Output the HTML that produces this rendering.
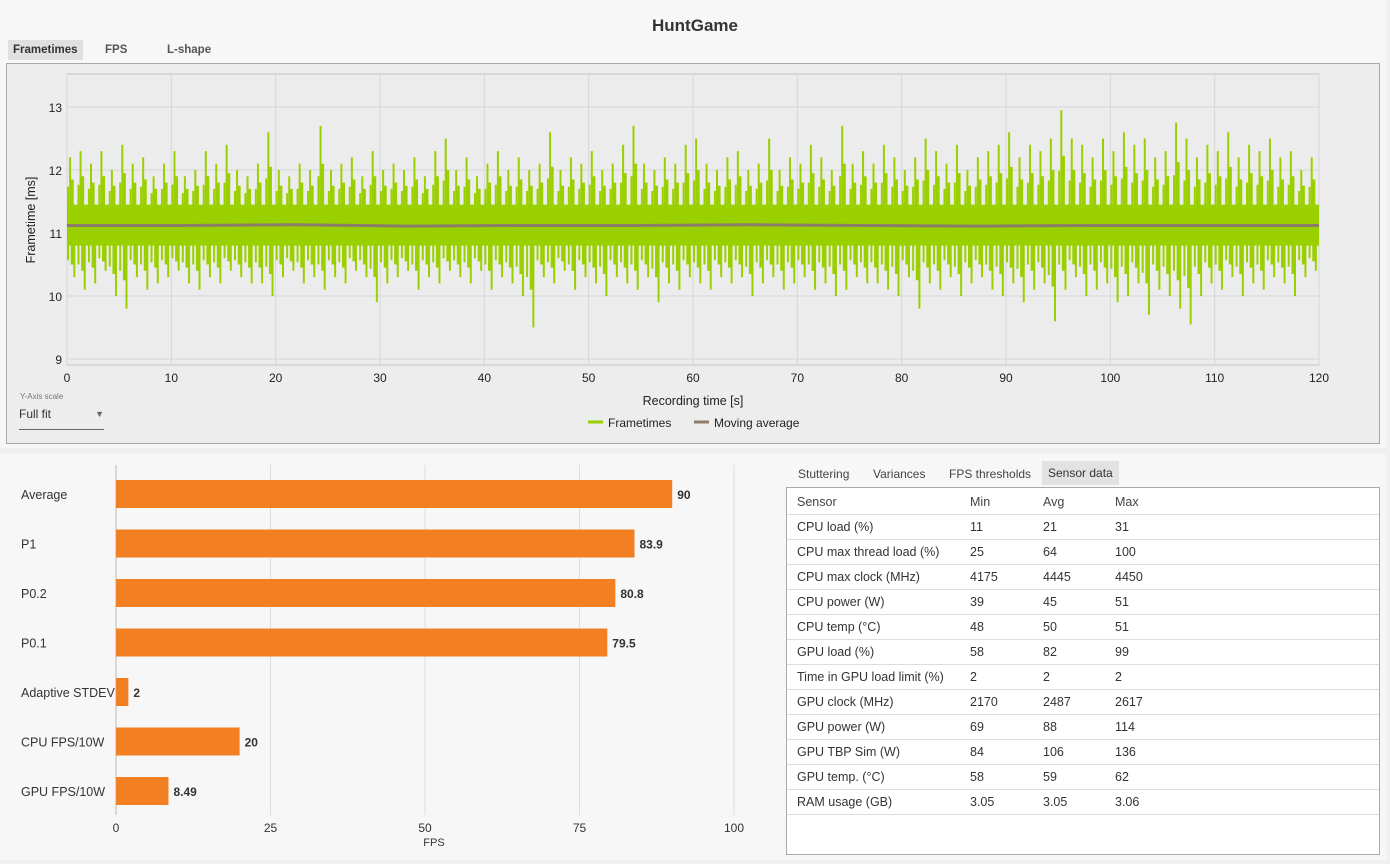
<!DOCTYPE html>
<html><head><meta charset="utf-8">
<style>
body{margin:0;width:1390px;height:864px;background:#f0f0f0;font-family:"Liberation Sans",sans-serif;overflow:hidden;position:relative}
.abs{position:absolute}
.tab{position:absolute;font-size:12px;font-weight:bold;color:#555;padding:4px 5px}
table{border-collapse:collapse;font-size:12.5px;color:#333}
td{height:24px;border-bottom:1px solid #ddd;padding:0 0 0 10px}
</style></head>
<body>
<div class="abs" style="left:0;top:0;width:1386px;height:448px;background:#f7f7f7"></div>
<div class="abs" style="left:0;top:16px;width:1390px;text-align:center;font-size:17px;font-weight:bold;color:#333">HuntGame</div>
<div class="tab" style="left:8px;top:40px;background:#e0e0e0;color:#333;font-size:11.5px">Frametimes</div>
<div class="tab" style="left:100px;top:40px;font-size:11.5px">FPS</div>
<div class="tab" style="left:162px;top:40px;font-size:11.5px">L-shape</div>
<div class="abs" style="left:6px;top:63px;width:1372px;height:379px;border:1px solid #aaa;background:#ededed"></div>
<svg class="abs" style="left:0;top:0" width="1390" height="450">
<g id="ft"></g></svg>
<div class="abs" style="left:20px;top:392px;font-size:8px;color:#777">Y-Axis scale</div>
<div class="abs" style="left:19px;top:407px;width:85px;height:22px;border-bottom:1px solid #666;font-size:12px;color:#333">Full fit<span style="position:absolute;right:0;top:2px;font-size:9px;color:#666">▼</span></div>
<div class="abs" style="left:0;top:454px;width:1386px;height:406px;background:#f7f7f7"></div>
<svg class="abs" style="left:0;top:454px" width="770" height="406"><g id="bc" transform="translate(0,-454)"></g></svg>
<div class="tab" style="left:793px;top:463px;font-weight:normal;color:#444">Stuttering</div>
<div class="tab" style="left:868px;top:463px;font-weight:normal;color:#444">Variances</div>
<div class="tab" style="left:944px;top:463px;font-weight:normal;color:#444">FPS thresholds</div>
<div class="tab" style="left:1042px;top:461px;background:#e2e2e2;font-weight:normal;color:#333;padding:5px 6px">Sensor data</div>
<div class="abs" style="left:786px;top:487px;width:592px;height:366px;border:1px solid #aaa;background:#fff">
<table id="st" style="width:592px;margin-top:2px"></table></div>
<script>
const NS="http://www.w3.org/2000/svg";
function mk(p,t,a){const e=document.createElementNS(NS,t);for(const k in a)e.setAttribute(k,a[k]);p.appendChild(e);return e;}
const ftMax=[12.2,12.3,12.1,12.3,12.0,12.4,12.1,12.2,11.9,12.1,12.3,11.9,12.0,12.3,12.1,12.4,12.0,11.9,12.1,12.6,12.0,11.9,12.1,12.0,12.7,12.0,12.1,12.2,11.9,12.3,12.0,12.1,12.0,12.2,11.9,12.3,12.5,12.0,12.2,11.9,12.1,12.3,12.0,12.2,12.0,12.1,12.6,12.0,12.2,12.1,12.3,12.0,12.1,12.4,12.7,12.1,12.0,12.2,12.1,12.4,12.5,12.1,12.0,12.2,12.3,12.0,12.1,12.5,12.0,12.2,12.1,12.4,12.2,12.0,12.7,12.1,12.3,12.1,12.4,12.2,12.0,12.2,12.5,12.3,12.1,12.4,12.0,12.2,12.3,12.4,12.6,12.2,12.4,12.3,12.5,12.95,12.5,12.4,12.2,12.5,12.3,12.6,12.4,12.5,12.2,12.3,12.75,12.5,12.2,12.4,12.3,12.6,12.2,12.4,12.3,12.5,12.2,12.3,12.0,12.2];
const ftMin=[10.3,10.1,10.2,10.4,10.0,9.8,10.3,10.1,10.2,10.3,10.4,10.2,10.1,10.3,10.2,10.4,10.3,10.2,10.2,10.0,10.3,10.4,10.2,10.3,10.1,10.3,10.2,10.4,10.3,9.9,10.2,10.3,10.4,10.1,10.3,10.2,10.4,10.3,10.2,10.4,10.1,10.3,10.2,10.0,9.5,10.3,10.2,10.4,10.1,10.3,10.2,10.0,10.3,10.2,10.1,10.3,9.9,10.2,10.1,10.3,10.2,10.1,10.3,10.2,10.3,10.0,10.2,10.3,10.1,10.2,10.3,10.1,10.2,10.0,10.1,10.3,10.2,10.2,10.1,10.0,10.3,9.8,10.2,10.1,10.3,10.0,10.2,10.3,10.1,10.0,10.2,9.9,10.1,10.2,9.6,10.1,10.3,10.0,10.1,10.2,9.9,10.0,10.2,9.7,10.1,10.0,9.8,9.55,10.0,10.2,10.1,10.3,10.0,10.2,10.1,10.3,10.2,10.0,10.3,10.4];
const movAvg=[11.12,11.12,11.13,11.11,11.12,11.12,11.13,11.12,11.11,11.12,11.12,11.12];
const bandLo=[10.8], bandHi=[11.45];
const xTicks=[0,10,20,30,40,50,60,70,80,90,100,110,120];
const yTicks=[9,10,11,12,13];
const X=t=>67+t*(1319-67)/120, Y=v=>107+(13-v)*63;
const g=document.getElementById('ft');
let e;
e=mk(g,'rect',{x:67,y:74,width:1252,height:291,fill:'#ececec',stroke:'#c4c4c4'});


xTicks.forEach(t=>{e=mk(g,'line',{x1:X(t),x2:X(t),y1:74,y2:365,stroke:'#d6d6d6'});


e=mk(g,'text',{x:X(t),y:382,'text-anchor':'middle','font-size':12,fill:'#222'});e.textContent=t;

});
yTicks.forEach(v=>{e=mk(g,'line',{x1:67,x2:1319,y1:Y(v),y2:Y(v),stroke:'#d6d6d6'});


e=mk(g,'text',{x:62,y:Y(v)+5,'text-anchor':'end','font-size':12,fill:'#222'});e.textContent=v;

});
e=mk(g,'rect',{x:X(0),y:Y(bandHi[0]),width:X(120)-X(0),height:Y(bandLo[0])-Y(bandHi[0]),fill:'#9bd000'});


const bw=(X(120)-X(0))/ftMax.length;
ftMax.forEach((m,i)=>{const n=ftMin[i];
e=mk(g,'line',{x1:X(i)+bw*0.3,x2:X(i)+bw*0.3,y1:Y(m),y2:Y(11.1),stroke:'#9bd000','stroke-width':2});


e=mk(g,'line',{x1:X(i)+bw*0.7,x2:X(i)+bw*0.7,y1:Y(11.1),y2:Y(n),stroke:'#9bd000','stroke-width':2});


e=mk(g,'line',{x1:X(i)+bw*0.5,x2:X(i)+bw*0.5,y1:Y((m+11.5)/2),y2:Y((n+10.7)/2),stroke:'#9bd000','stroke-width':3});


e=mk(g,'line',{x1:X(i)+bw*0.1,x2:X(i)+bw*0.1,y1:Y((m+23)/3),y2:Y((n+21.4)/3),stroke:'#9bd000','stroke-width':2});

});
const pts=movAvg.map((v,i)=>X(i*120/(movAvg.length-1))+','+Y(v)).join(' ');
e=mk(g,'polyline',{points:pts,fill:'none',stroke:'#8b7d68','stroke-width':3});


e=mk(g,'text',{x:693,y:405,'text-anchor':'middle','font-size':12.5,fill:'#222'});e.textContent='Recording time [s]';


e=mk(g,'text',{x:0,y:0,transform:'translate(35,220) rotate(-90)','text-anchor':'middle','font-size':12.5,fill:'#222'});e.textContent='Frametime [ms]';


e=mk(g,'line',{x1:588,x2:603,y1:422,y2:422,stroke:'#9bd000','stroke-width':3});


e=mk(g,'text',{x:608,y:427,'font-size':12,fill:'#222'});e.textContent='Frametimes';


e=mk(g,'line',{x1:694,x2:709,y1:422,y2:422,stroke:'#8b7d68','stroke-width':3});


e=mk(g,'text',{x:714,y:427,'font-size':12,fill:'#222'});e.textContent='Moving average';


const barCats=['Average','P1','P0.2','P0.1','Adaptive STDEV','CPU FPS/10W','GPU FPS/10W'];
const barVals=[90,83.9,80.8,79.5,2,20,8.49];
const barLabels=['90','83.9','80.8','79.5','2','20','8.49'];
const fpsTicks=[0,25,50,75,100];
const BX=v=>116+v*6.18, BY=i=>494+i*49.5;
const b=document.getElementById('bc');
fpsTicks.forEach(t=>{e=mk(b,'line',{x1:BX(t),x2:BX(t),y1:465,y2:815,stroke:t==0?'#bbb':'#ddd'});


e=mk(b,'text',{x:BX(t),y:832,'text-anchor':'middle','font-size':12,fill:'#333'});e.textContent=t;

});
barCats.forEach((c,i)=>{
e=mk(b,'rect',{x:BX(0),y:BY(i)-14,width:BX(barVals[i])-BX(0),height:28,fill:'#f28022'});


e=mk(b,'text',{x:21,y:BY(i)+5,'font-size':12.5,fill:'#333'});e.textContent=c;


e=mk(b,'text',{x:BX(barVals[i])+5,y:BY(i)+5,'font-size':12,'font-weight':'bold',fill:'#333'});e.textContent=barLabels[i];

});
e=mk(b,'text',{x:BX(50)+9,y:846,'text-anchor':'middle','font-size':11,fill:'#333'});e.textContent='FPS';


const rows=[['Sensor','Min','Avg','Max'],['CPU load (%)','11','21','31'],['CPU max thread load (%)','25','64','100'],['CPU max clock (MHz)','4175','4445','4450'],['CPU power (W)','39','45','51'],['CPU temp (°C)','48','50','51'],['GPU load (%)','58','82','99'],['Time in GPU load limit (%)','2','2','2'],['GPU clock (MHz)','2170','2487','2617'],['GPU power (W)','69','88','114'],['GPU TBP Sim (W)','84','106','136'],['GPU temp. (°C)','58','59','62'],['RAM usage (GB)','3.05','3.05','3.06']];
const st=document.getElementById('st');
rows.forEach((r,i)=>{const tr=document.createElement('tr');


r.forEach((c,j)=>{const td=document.createElement('td');td.textContent=c;
td.style.width=['163px','63px','62px','auto'][j];if(i==0)td.style.color='#444';tr.appendChild(td);});st.appendChild(tr);});
</script>
</body></html>
